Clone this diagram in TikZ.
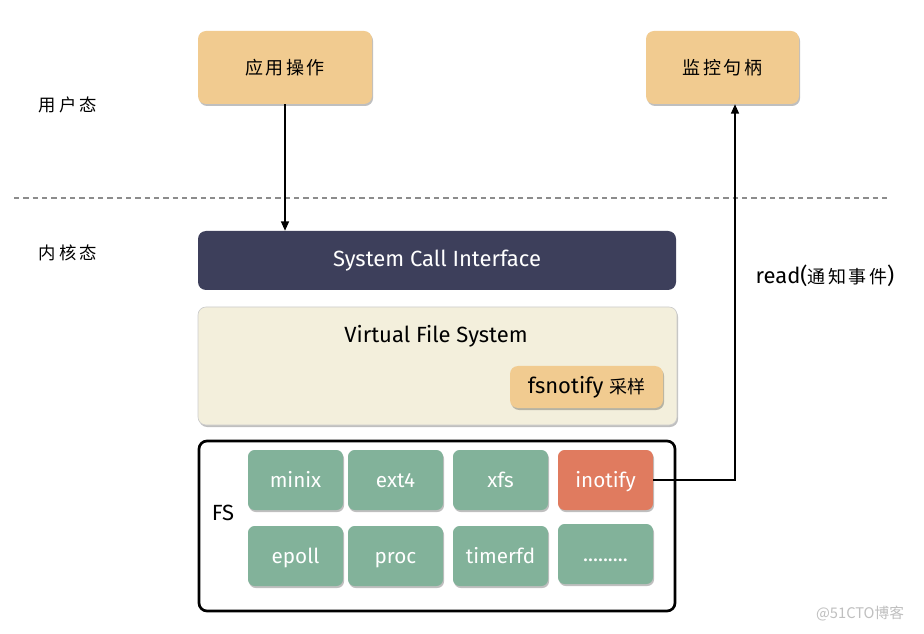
\documentclass[tikz,border=0pt]{standalone}
\usepackage{fontspec}
\setmainfont{Fira Sans}
\newfontfamily\cjk{Noto Sans CJK SC}
\newfontfamily\cjkwide[LetterSpace=14]{Noto Sans CJK SC}
\newfontfamily\cjkside[LetterSpace=18]{Noto Sans CJK SC}
\usetikzlibrary{arrows.meta,shadows}
\definecolor{boxorange}{HTML}{F1CB90}
\definecolor{scidark}{HTML}{3D3F5B}
\definecolor{vfsbg}{HTML}{F3EFDC}
\definecolor{fsgreen}{HTML}{82B29A}
\definecolor{fsred}{HTML}{E07B5F}
\tikzset{
  x=0.75pt, y=-0.75pt,
  shadowed/.style={drop shadow={shadow xshift=0.8pt, shadow yshift=-1.5pt, opacity=0.25, fill=black}},
  ubox/.style={rectangle, rounded corners=6pt, fill=boxorange, shadowed, font=\cjkwide\fontsize{13.5}{16}\selectfont, text=black},
  fsbox/.style={rectangle, rounded corners=5pt, fill=fsgreen, shadowed, minimum width=71.25pt, minimum height=45pt, text=white, text height=2.1ex, text depth=0pt, font=\fontsize{15.5}{18}\selectfont},
  conn/.style={line width=1.1pt, draw=black},
  tip/.style={-{Triangle[length=7pt,width=6pt]}},
  side/.style={font=\cjkside\fontsize{13}{15}\selectfont},
  lbl/.style={font=\fontsize{16.5}{19}\selectfont}
}
\begin{document}
\begin{tikzpicture}
\useasboundingbox (0,0) rectangle (924,634);
\fill[white] (0,0) rectangle (924,634);
% user space
\node[ubox, minimum width=130.5pt, minimum height=54.75pt] (app) at (285,67.5) {应用操作};
\node[ubox, minimum width=114.75pt, minimum height=54.75pt] (mon) at (722.5,67.5) {监控句柄};
\node[side] (user) at (68,105) {用户态};
\node[side] (kernel) at (68,253) {内核态};
\draw[draw=black!45, line width=0.9pt, dash pattern=on 4pt off 3pt] (14,198) -- (888,198);
% kernel
\node[rectangle, rounded corners=6pt, fill=scidark, minimum width=358.5pt, minimum height=44.25pt, text=white, lbl] (sci) at (437,260.5) {System Call Interface};
\node[rectangle, rounded corners=6pt, fill=vfsbg, draw=black!20, line width=0.5pt, shadowed, minimum width=359.25pt, minimum height=88.5pt] (vfs) at (437.5,366) {};
\node[lbl] (vfstext) at (436,336) {Virtual File System};
\node[ubox, minimum width=114.75pt, minimum height=31.5pt, lbl] (fsn) at (586.5,387) {fsnotify {\cjk\fontsize{13.5}{15}\selectfont 采样}};
\node[rectangle, rounded corners=6pt, draw=black, line width=2pt, minimum width=357pt, minimum height=127.5pt] (fs) at (437,526) {};
\node[lbl] (fslabel) at (223,513) {FS};
\node[fsbox] (minix) at (295.5,480) {minix};
\node[fsbox] (ext) at (395.5,480) {ext4};
\node[fsbox] (xfs) at (500.5,480) {xfs};
\node[fsbox, fill=fsred] (ino) at (605.5,480) {inotify};
\node[fsbox] (epoll) at (295.5,556) {epoll};
\node[fsbox] (proc) at (395.5,556) {proc};
\node[fsbox] (timer) at (500.5,556) {timerfd};
\node[fsbox] (more) at (605.5,554) {.........};
% connectors
\draw[conn, tip] (app.south) -- (app.south |- sci.north);
\coordinate (turn) at (735,480);
\draw[conn, tip] (ino.east) -- (turn) -- (turn |- mon.south);
\node[lbl] (read) at (825,276) {read({\cjkwide\fontsize{13.5}{15}\selectfont 通知事件})};
\node[text=black!25, font=\cjk\fontsize{11}{13}\selectfont] (wm) at (860,614) {@51CTO博客};
\end{tikzpicture}
\end{document}
